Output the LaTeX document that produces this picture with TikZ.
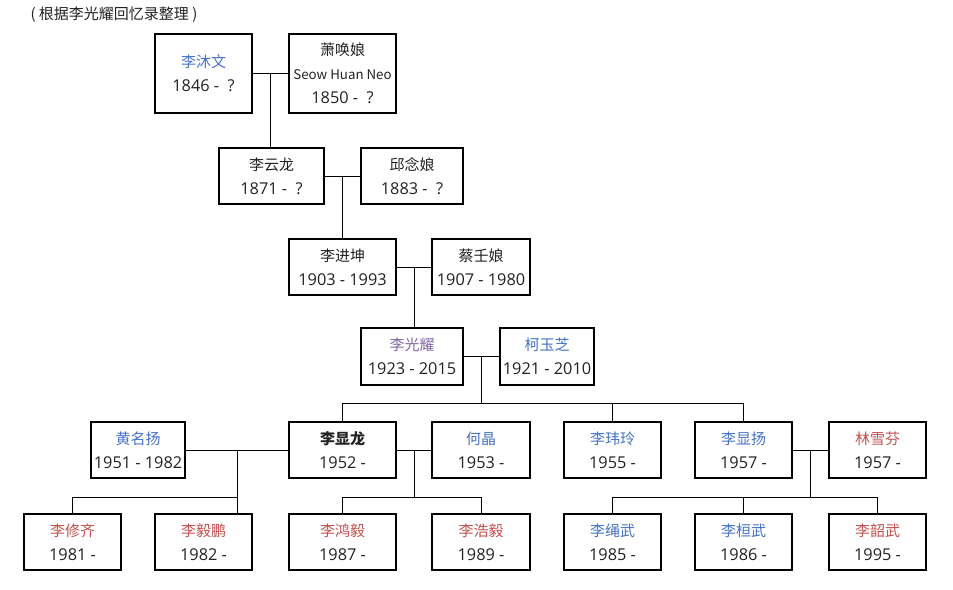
\documentclass[tikz,border=0pt]{standalone}
\usepackage{fontspec}
\setmainfont{Open Sans}
\newfontfamily\cjkfont{Noto Sans CJK SC}
\usepackage{xcolor}
\definecolor{sonblue}{RGB}{68,114,196}
\definecolor{daughterred}{RGB}{192,80,77}
\definecolor{selfpurple}{RGB}{128,100,162}
\definecolor{notegray}{RGB}{34,34,34}
\usepackage{tikz}
\usetikzlibrary{calc,positioning}
\newcommand{\namesize}{\cjkfont\fontsize{15}{24}\selectfont}
\newcommand{\nameplain}[1]{{\namesize #1}}
\newcommand{\nameblue}[1]{\textcolor{sonblue}{\namesize #1}}
\newcommand{\namered}[1]{\textcolor{daughterred}{\namesize #1}}
\newcommand{\namepurple}[1]{\textcolor{selfpurple}{\namesize #1}}
\tikzset{
    person/.style={draw, line width=2pt, inner sep=0pt, minimum height=56pt,
        align=center, text=notegray, font=\fontsize{16.3}{24}\selectfont},
    link/.style={line width=1pt},
}

\begin{document}
\begin{tikzpicture}[x=1pt,y=-1pt]
                \useasboundingbox (0,0) rectangle (953,589);
                \node[anchor=west, text=notegray, font=\cjkfont\fontsize{15}{17}\selectfont] (note) at (27,15) {( 根据李光耀回忆录整理 )};
                % generation 1
                \node[person, minimum width=97pt, minimum height=79pt] (muwen) at (203.5,73.5) {\nameblue{李沐文}\\1846 -\ \ ?};
                \node[person, minimum width=107pt, minimum height=79pt] (huanniang) at (342.5,73.5) {\nameplain{萧唤娘}\\{\cjkfont\fontsize{13.3}{24}\selectfont Seow Huan Neo}\\1850 -\ \ ?};
                % generation 2
                \node[person, minimum width=105pt] (yunlong) at (271.5,176) {\nameplain{李云龙}\\1871 -\ \ ?};
                \node[person, minimum width=102pt] (nianniang) at (412,176) {\nameplain{邱念娘}\\1883 -\ \ ?};
                % generation 3
                \node[person, minimum width=107pt] (jinkun) at (342.5,267) {\nameplain{李进坤}\\1903 - 1993};
                \node[person, minimum width=98pt] (renniang) at (481,267) {\nameplain{蔡壬娘}\\1907 - 1980};
                % generation 4
                \node[person, minimum width=102pt, minimum height=57pt] (guangyao) at (412,356.5) {\namepurple{李光耀}\\1923 - 2015};
                \node[person, minimum width=94pt, minimum height=57pt] (yuzhi) at (547,356.5) {\nameblue{柯玉芝}\\1921 - 2010};
                % generation 5
                \node[person, minimum width=94pt] (mingyang) at (138,450) {\nameblue{黄名扬}\\1951 - 1982};
                \node[person, minimum width=107pt] (hsienloong) at (342.5,450) {\nameplain{\bfseries 李显龙}\\1952 -};
                \node[person, minimum width=98pt] (hoching) at (481,450) {\nameblue{何晶}\\1953 -};
                \node[person, minimum width=97pt] (weiling) at (612.5,450) {\nameblue{李玮玲}\\1955 -};
                \node[person, minimum width=97pt] (hsienyang) at (743.5,450) {\nameblue{李显扬}\\1957 -};
                \node[person, minimum width=97pt] (xuefen) at (877.5,450) {\namered{林雪芬}\\1957 -};
                % generation 6
                \node[person, minimum width=97pt] (xiuqi) at (72.5,542) {\namered{李修齐}\\1981 -};
                \node[person, minimum width=97pt] (yipeng) at (203.5,542) {\namered{李毅鹏}\\1982 -};
                \node[person, minimum width=107pt] (hongyi) at (342.5,542) {\namered{李鸿毅}\\1987 -};
                \node[person, minimum width=98pt] (haoyi) at (481,542) {\namered{李浩毅}\\1989 -};
                \node[person, minimum width=97pt] (shengwu) at (612.5,542) {\nameblue{李绳武}\\1985 -};
                \node[person, minimum width=97pt] (huanwu) at (743.5,542) {\nameblue{李桓武}\\1986 -};
                \node[person, minimum width=97pt] (shaowu) at (877.5,542) {\namered{李韶武}\\1995 -};

                % couples and their children
                \coordinate (mid1) at ($(muwen.east)!.5!(huanniang.west)$);
                \draw[link] (muwen.east) -- (huanniang.west);
                \draw[link] (mid1) -- (mid1 |- yunlong.north);

                \coordinate (mid2) at ($(yunlong.east)!.5!(nianniang.west)$);
                \draw[link] (yunlong.east) -- (nianniang.west);
                \draw[link] (mid2) -- (mid2 |- jinkun.north);

                \coordinate (mid3) at ($(jinkun.east)!.5!(renniang.west)$);
                \draw[link] (jinkun.east) -- (renniang.west);
                \draw[link] (mid3) -- (mid3 |- guangyao.north);

                \coordinate (mid4) at ($(guangyao.east)!.5!(yuzhi.west)$);
                \coordinate (bus4) at (0,403);
                \draw[link] (guangyao.east) -- (yuzhi.west);
                \draw[link] (mid4) -- (mid4 |- bus4);
                \draw[link] (hsienloong.north |- bus4) -- (hsienyang.north |- bus4);
                \draw[link] (hsienloong.north) -- (hsienloong.north |- bus4);
                \draw[link] (weiling.north) -- (weiling.north |- bus4);
                \draw[link] (hsienyang.north) -- (hsienyang.north |- bus4);

                \coordinate (bus5) at (0,497);
                \coordinate (mid5) at ($(mingyang.east)!.5!(hsienloong.west)$);
                \draw[link] (mingyang.east) -- (hsienloong.west);
                \draw[link] (mid5) -- (mid5 |- yipeng.north);
                \draw[link] (xiuqi.north |- bus5) -- (mid5 |- bus5);
                \draw[link] (xiuqi.north) -- (xiuqi.north |- bus5);

                \coordinate (mid6) at ($(hsienloong.east)!.5!(hoching.west)$);
                \draw[link] (hsienloong.east) -- (hoching.west);
                \draw[link] (mid6) -- (mid6 |- bus5);
                \draw[link] (hongyi.north |- bus5) -- (haoyi.north |- bus5);
                \draw[link] (hongyi.north) -- (hongyi.north |- bus5);
                \draw[link] (haoyi.north) -- (haoyi.north |- bus5);

                \coordinate (mid7) at ($(hsienyang.east)!.5!(xuefen.west)$);
                \draw[link] (hsienyang.east) -- (xuefen.west);
                \draw[link] (mid7) -- (mid7 |- bus5);
                \draw[link] (shengwu.north |- bus5) -- (shaowu.north |- bus5);
                \draw[link] (shengwu.north) -- (shengwu.north |- bus5);
                \draw[link] (huanwu.north) -- (huanwu.north |- bus5);
                \draw[link] (shaowu.north) -- (shaowu.north |- bus5);
            \end{tikzpicture}
\end{document}
